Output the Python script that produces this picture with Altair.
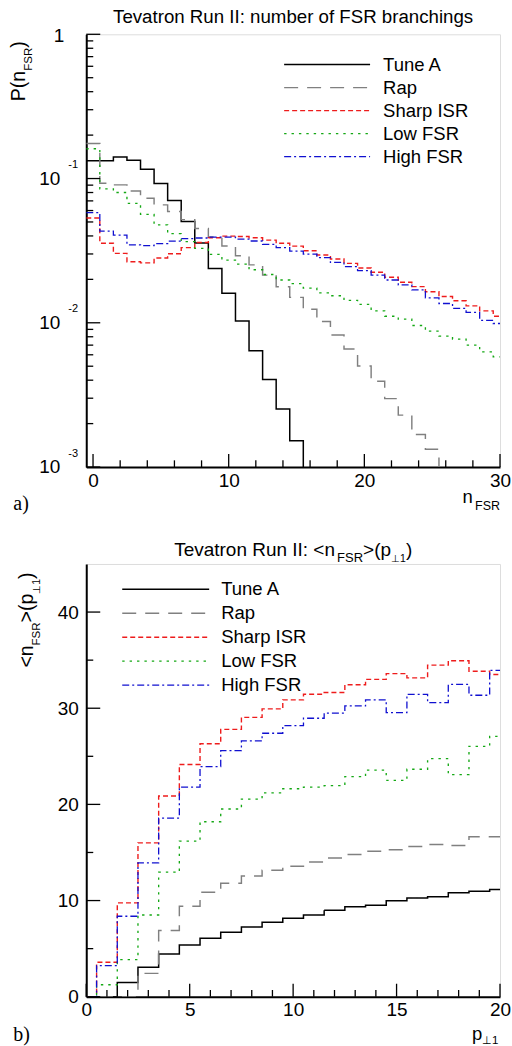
import altair as alt
import pandas as pd

FONT = "Liberation Sans"
SERIF = "Liberation Serif"
W, H = 414, 433

series = ["Tune A", "Rap", "Sharp ISR", "Low FSR", "High FSR"]
colors = ["#000000", "#808080", "#ee1c1c", "#14a814", "#1010d0"]
dashes = [[1, 0], [14, 9], [5, 3], [2.4, 5], [7, 3, 2, 3]]
widths = [1.5, 1.3, 1.4, 2.6, 1.5]

# ---- panel a) P(n_FSR), one value per bin n = 0, 1, 2, ...
tuneA_a = [0.133, 0.133, 0.141, 0.134, 0.116, 0.0923, 0.0704, 0.0503, 0.0357, 0.0238,
           0.0160, 0.0103, 0.0064, 0.00404, 0.00253, 0.00152, 0.0006]
rap_a = [0.175, 0.0927, 0.0904, 0.0819, 0.0730, 0.0657, 0.0590, 0.0519, 0.0450, 0.0393,
         0.0341, 0.0292, 0.0252, 0.0214, 0.0178, 0.0150, 0.0124, 0.0102, 0.00822, 0.00659,
         0.00502, 0.00393, 0.00298, 0.00229, 0.00168, 0.00133, 0.0006]
sharp_a = [0.0533, 0.0356, 0.0303, 0.0265, 0.0260, 0.0281, 0.0301, 0.0332, 0.0360, 0.0389,
           0.0399, 0.0396, 0.0389, 0.0374, 0.0356, 0.0340, 0.0316, 0.0295, 0.0277, 0.0258,
           0.0240, 0.0224, 0.0207, 0.0191, 0.0178, 0.0164, 0.0152, 0.0142, 0.0131, 0.0121, 0.0111]
low_a = [0.161, 0.0848, 0.0800, 0.0673, 0.0565, 0.0477, 0.0415, 0.0365, 0.0328, 0.0298,
         0.0272, 0.0255, 0.0233, 0.0216, 0.0198, 0.0187, 0.0174, 0.0161, 0.0154, 0.0143,
         0.0134, 0.0121, 0.0111, 0.0106, 0.00958, 0.00875, 0.00809, 0.00771, 0.00700, 0.00629, 0.00581]
high_a = [0.0581, 0.0432, 0.0405, 0.0347, 0.0343, 0.0354, 0.0368, 0.0383, 0.0387, 0.0393,
          0.0393, 0.0380, 0.0369, 0.0350, 0.0332, 0.0314, 0.0299, 0.0283, 0.0262, 0.0245,
          0.0230, 0.0214, 0.0198, 0.0183, 0.0169, 0.0149, 0.0136, 0.0126, 0.0118, 0.0104, 0.00989]

# ---- panel b) <n_FSR>(p_perp1), one value per bin p = 0, 1, ..., 20
tuneA_b = [0, 0, 1.49, 3.06, 4.44, 5.38, 6.08, 6.70, 7.25, 7.74, 8.16, 8.51, 9.0, 9.35, 9.52,
           9.97, 10.26, 10.40, 10.80, 10.96, 11.15]
rap_b = [0, 0, 0, 2.43, 6.88, 9.41, 10.87, 11.8, 12.55, 13.15, 13.56, 14.0, 14.42, 14.78,
         15.12, 15.28, 15.63, 15.83, 15.73, 16.63, 16.63]
sharp_b = [0, 3.58, 9.76, 16.0, 20.87, 24.15, 26.3, 27.8, 29.05, 29.93, 30.87, 31.45, 31.63,
           32.44, 33.0, 33.6, 33.16, 34.48, 34.93, 33.85, 33.5]
low_b = [0, 1.25, 3.85, 8.5, 12.95, 16.18, 18.2, 19.52, 20.55, 21.2, 21.63, 21.8, 21.95,
         22.88, 23.57, 22.5, 23.65, 24.76, 23.1, 26.04, 27.08]
high_b = [0, 3.23, 8.37, 13.92, 18.58, 21.8, 23.93, 25.6, 26.6, 27.4, 28.2, 28.96, 29.5,
          30.24, 30.87, 29.55, 31.45, 30.58, 32.47, 31.35, 33.93]

# tick positions
xa_major = [0, 10, 20, 30]
xa_minor = [2, 4, 6, 8, 12, 14, 16, 18, 22, 24, 26, 28]
ya_major = [0.001, 0.01, 0.1, 1]
ya_minor = [m * d for d in (0.001, 0.01, 0.1) for m in range(2, 10)]
ya_ten = [0.1, 0.01, 0.001]
ya_exp = ["-1", "-2", "-3"]
xb_major = [0, 5, 10, 15, 20]
xb_minor = [1, 2, 3, 4, 6, 7, 8, 9, 11, 12, 13, 14, 16, 17, 18, 19]
yb_major = [0, 10, 20, 30, 40]
yb_minor = [5, 15, 25, 35]


def steps(vals_by_series):
    rows = []
    for name, vals in vals_by_series:
        for i, v in enumerate(vals):
            rows.append({"series": name, "x": i - 0.5, "y": v})
        rows.append({"series": name, "x": len(vals) - 0.5, "y": vals[-1]})
    return pd.DataFrame(rows)


def txt(s, x, y, size=18.5, align="left", angle=0, baseline="alphabetic", font=FONT):
    kw = dict(align=align, baseline=baseline, font=font, fontSize=size, color="black")
    if angle:
        kw["angle"] = angle
    return alt.Chart(pd.DataFrame({"t": [s]})).mark_text(**kw).encode(
        text="t:N", x=alt.value(x), y=alt.value(y))


def legend(x, y, row_h, length, offset):
    return alt.Legend(orient="none", legendX=x, legendY=y, title=None, symbolType="stroke",
                      symbolSize=length * length, clipHeight=row_h, rowPadding=0,
                      labelOffset=offset, labelFont=FONT, labelFontSize=18.5,
                      labelColor="black", symbolStrokeWidth=1.6, padding=0)


def x_axis(vals):
    return alt.Axis(values=vals, ticks=False, tickSize=0, domainWidth=2, domainColor="black",
                    labelFont=FONT, labelFontSize=19, labelColor="black", labelPadding=4,
                    labelFlush=False, labelOverlap=False, grid=False, title=None)


def y_axis(vals=None):
    if vals is None:
        return alt.Axis(labels=False, ticks=False, tickSize=0, domainWidth=2,
                        domainColor="black", grid=False, title=None)
    return alt.Axis(values=vals, ticks=False, tickSize=0, domainWidth=2, domainColor="black",
                    labelFont=FONT, labelFontSize=19, labelColor="black", labelPadding=8,
                    labelOverlap=False, grid=False, title=None)


def lines(df, xs, ys, leg):
    return alt.Chart(df).mark_line(interpolate="step-after", clip=True).encode(
        x=alt.X("x:Q", scale=xs[0], axis=xs[1]),
        y=alt.Y("y:Q", scale=ys[0], axis=ys[1]),
        color=alt.Color("series:N", scale=alt.Scale(domain=series, range=colors), legend=leg),
        strokeDash=alt.StrokeDash("series:N", scale=alt.Scale(domain=series, range=dashes), legend=leg),
        strokeWidth=alt.StrokeWidth("series:N", scale=alt.Scale(domain=series, range=widths), legend=None),
    )


def xticks(vals, xs, length):
    return alt.Chart(pd.DataFrame({"v": vals})).mark_rule(color="black", strokeWidth=1.3).encode(
        x=alt.X("v:Q", scale=xs[0], axis=xs[1]), y=alt.value(H), y2=alt.value(H - length))


def yticks(vals, ys, length):
    return alt.Chart(pd.DataFrame({"v": vals})).mark_rule(color="black", strokeWidth=1.3).encode(
        y=alt.Y("v:Q", scale=ys[0], axis=ys[1]), x=alt.value(0), x2=alt.value(length))


# ---------------- panel a
xsa = (alt.Scale(domain=[-0.5, 30], nice=False, zero=False), x_axis(xa_major))
ysa = (alt.Scale(type="log", domain=[0.001, 1], nice=False), y_axis())
df_a = steps(zip(series, [tuneA_a, rap_a, sharp_a, low_a, high_a]))

ten_lbl = alt.Chart(pd.DataFrame({"v": ya_ten})).mark_text(
    align="right", baseline="middle", font=FONT, fontSize=19, color="black").encode(
    x=alt.value(-26), y=alt.Y("v:Q", scale=ysa[0], axis=ysa[1]), text=alt.value("10"))
one_lbl = alt.Chart(pd.DataFrame({"v": [1]})).mark_text(
    align="right", baseline="middle", font=FONT, fontSize=19, color="black", dy=2).encode(
    x=alt.value(-22), y=alt.Y("v:Q", scale=ysa[0], axis=ysa[1]), text=alt.value("1"))
exp_lbl = alt.Chart(pd.DataFrame({"v": ya_ten, "e": ya_exp})).mark_text(
    align="left", baseline="alphabetic", font=FONT, fontSize=11, color="black", dy=-10.5).encode(
    x=alt.value(-18), y=alt.Y("v:Q", scale=ysa[0], axis=ysa[1]), text="e:N")

panel_a = alt.layer(
    lines(df_a, xsa, ysa, legend(197, 19.2, 22.3, 86, 12)),
    xticks(xa_major, xsa, 13), xticks(xa_minor, xsa, 6.7),
    yticks(ya_major, ysa, 14), yticks(ya_minor, ysa, 7),
    ten_lbl, one_lbl, exp_lbl,
    txt("Tevatron Run II: number of FSR branchings", 207, -11.3, size=18.7, align="center"),
    txt("P(n", -61.7, 67, size=19.5, angle=270),
    txt("FSR", -54, 36.5, size=11.5, angle=270),
    txt(")", -61.7, 13.5, size=19.5, angle=270),
    txt("n", 386.7, 469, size=18.5, align="right"),
    txt("FSR", 414, 475.5, size=12.5, align="right"),
    txt("a)", -73, 476, size=20, font=SERIF),
).properties(width=W, height=H)

# ---------------- panel b
xsb = (alt.Scale(domain=[0, 20], nice=False, zero=False), x_axis(xb_major))
ysb = (alt.Scale(domain=[0, 45], nice=False), y_axis(yb_major))
df_b = steps(zip(series, [tuneA_b, rap_b, sharp_b, low_b, high_b]))

panel_b = alt.layer(
    lines(df_b, xsb, ysb, legend(35, 13.4, 23.75, 87, 11)),
    xticks(xb_major, xsb, 13), xticks(xb_minor, xsb, 6.7),
    yticks(yb_major, ysb, 14), yticks(yb_minor, ysb, 7),
    txt("Tevatron Run II: <n", 88, -8, size=19),
    txt("FSR", 251, -2, size=13),
    txt(">(p", 277, -8, size=19),
    txt("\u22a51", 305, -2, size=10.5),
    txt(")", 320, -8, size=19),
    txt("<n", -53.5, 103.7, size=19.5, angle=270),
    txt("FSR", -46, 81.5, size=11.5, angle=270),
    txt(">(p", -53.5, 58.5, size=19.5, angle=270),
    txt("\u22a51", -46, 29.8, size=10.5, angle=270),
    txt(")", -53.5, 15, size=19.5, angle=270),
    txt("p", 386, 476, size=18.5),
    txt("\u22a51", 396, 480, size=11.5),
    txt("b)", -73, 477, size=20, font=SERIF),
).properties(width=W, height=H)

chart = alt.vconcat(panel_a, panel_b, spacing=97, bounds="flush").resolve_scale(
    color="independent", strokeDash="independent", strokeWidth="independent"
).resolve_legend(color="independent", strokeDash="independent").properties(
    padding={"left": 7.3, "top": 7, "right": 0, "bottom": 0}
).configure_view(stroke="#000000", strokeWidth=1).configure(background="white")

chart.save("out.html", embed_options={"renderer": "svg", "actions": False})
